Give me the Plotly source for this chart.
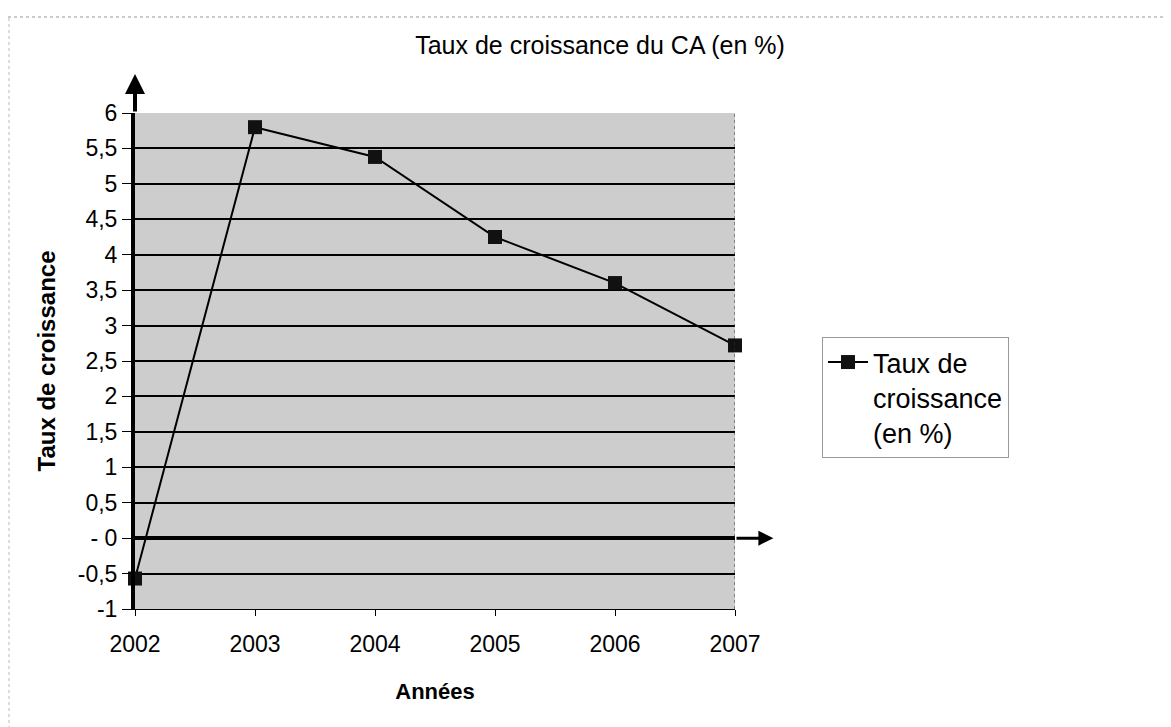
import plotly.graph_objects as go

years = [2002, 2003, 2004, 2005, 2006, 2007]
taux = [-0.57, 5.8, 5.38, 4.25, 3.6, 2.72]
series_name = "Taux de<br>croissance<br>(en %)"
ytick_vals = [6, 5.5, 5, 4.5, 4, 3.5, 3, 2.5, 2, 1.5, 1, 0.5, 0, -0.5, -1]
ytick_text = ["6", "5,5", "5", "4,5", "4", "3,5", "3", "2,5", "2", "1,5", "1", "0,5", "- 0", "-0,5", "-1"]

font = "Liberation Sans, Arial, sans-serif"

# page body has an 8px margin: compensate
L, T, PW, PH = 127, 105, 600, 496
W, H = 1171, 727
R = W - L - PW
B = H - T - PH

fig = go.Figure()
fig.add_trace(go.Scatter(
    x=years, y=taux, mode="lines+markers", name=series_name,
    line=dict(color="black", width=2),
    marker=dict(symbol="square", size=14, color="#111111"),
    cliponaxis=False, showlegend=True,
))

fig.update_layout(
    width=W, height=H,
    margin=dict(l=L, r=R, t=T, b=B),
    paper_bgcolor="white",
    plot_bgcolor="#cdcdcd",
    font=dict(family=font, size=23, color="black"),
    title=dict(text="Taux de croissance du CA (en %)", x=(600 - 8) / W, xanchor="center",
               y=1 - (45 - 8) / H, yanchor="middle", font=dict(size=25)),
    xaxis=dict(range=[2002, 2007], tickvals=years, ticktext=[str(y) for y in years],
               showgrid=False, zeroline=False, ticks="outside", ticklen=6, tickcolor="black",
               ticklabelstandoff=8,
               title=dict(text="<b>Années</b>", font=dict(size=22), standoff=28),
               showline=True, linecolor="black", linewidth=1, mirror=False),
    yaxis=dict(range=[-1, 6], tickvals=ytick_vals, ticktext=ytick_text,
               showgrid=True, gridcolor="black", gridwidth=1.5,
               zeroline=True, zerolinecolor="black", zerolinewidth=4,
               ticks="outside", ticklen=9, tickcolor="black",
               showline=True, linecolor="black", linewidth=4,
               title=dict(text="<b>Taux de croissance</b>", font=dict(size=24), standoff=16)),
    legend=dict(x=(822 - 8 - L) / PW, y=(T + PH - (337 - 8)) / PH, xanchor="left", yanchor="top",
                bordercolor="#999999", borderwidth=1, bgcolor="white",
                font=dict(size=27), itemwidth=40, valign="top", tracegroupgap=0),
    showlegend=True,
)

# right border of plot area
fig.add_shape(type="line", xref="x", yref="y", x0=2007, x1=2007, y0=-1, y1=6,
              line=dict(color="#333333", width=1, dash="dot"))

# axis arrows
fig.add_annotation(x=2002, y=6.55, ax=2002, ay=6, xref="x", yref="y", axref="x", ayref="y",
                   text="", showarrow=True, arrowhead=2, arrowsize=1, arrowwidth=4, arrowcolor="black")
fig.add_annotation(x=2007.32, y=0, ax=2007, ay=0, xref="x", yref="y", axref="x", ayref="y",
                   text="", showarrow=True, arrowhead=2, arrowsize=1, arrowwidth=3, arrowcolor="black")

# faint page border
top_y = (T + PH - (17 - 8)) / PH
fig.add_shape(type="line", xref="paper", yref="paper", x0=-L / PW, x1=(W - L) / PW,
              y0=top_y, y1=top_y, line=dict(color="#999999", width=1, dash="dot"))
fig.add_shape(type="line", xref="paper", yref="paper", x0=(-L + 1) / PW, x1=(-L + 1) / PW,
              y0=-B / PH, y1=top_y, line=dict(color="#bbbbbb", width=1, dash="dot"))

fig.write_html("out.html")
